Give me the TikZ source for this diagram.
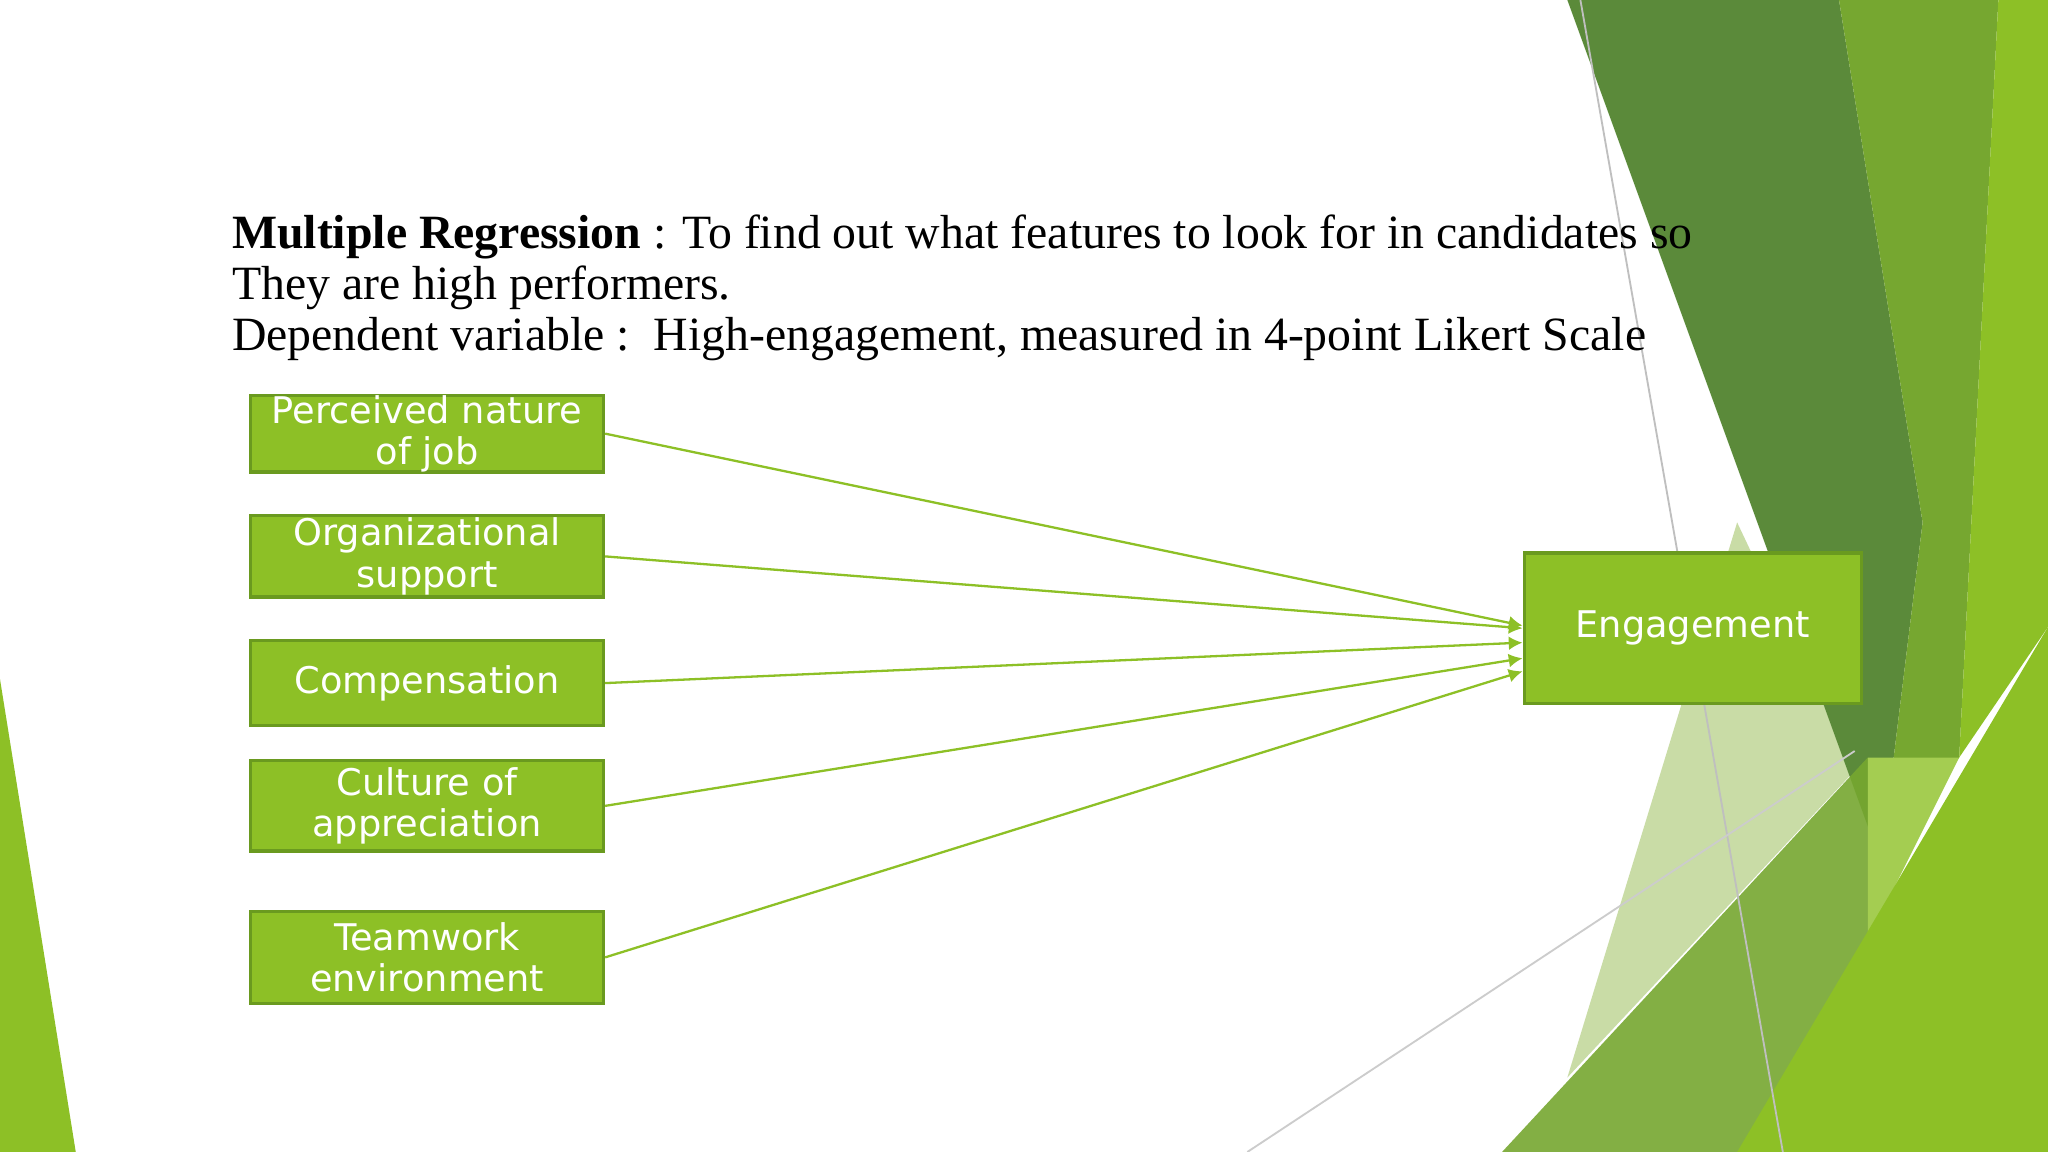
\documentclass[tikz,border=0pt]{standalone}
\usepackage{fontspec}
\setmainfont{Liberation Serif}
\newfontfamily\boxfont{DejaVu Sans}
\usetikzlibrary{arrows.meta}
\definecolor{bg}{HTML}{8DC026}
\definecolor{dk}{HTML}{5B8A3A}
\definecolor{md}{HTML}{76A730}
\definecolor{pl}{HTML}{C9DCA6}
\definecolor{bd}{HTML}{6A9A1F}
\tikzset{
 varbox/.style={draw=bd,line width=0.7pt,fill=bg,text=white,font=\boxfont\fontsize{8}{9}\selectfont,align=center,minimum width=2.7cm,inner sep=0pt},
 conn/.style={draw=bg,line width=0.5pt,-{Latex[length=3pt,width=3pt]}}
}
\begin{document}
\begin{tikzpicture}[x=0.01cm,y=-0.01cm]
\useasboundingbox (0,0) rectangle (1568,882);
\fill[white] (0,0) rectangle (1568,882);
% background shapes
\fill[pl] (1330,400) -- (1420,590) -- (1200,825) -- cycle;
\fill[dk] (1200,0) -- (1408,0) -- (1472,400) -- (1440,660) -- (1360,440) -- cycle;
\fill[md] (1408,0) -- (1530,0) -- (1500,580) -- (1440,660) -- (1472,400) -- cycle;
\fill[bg] (1530,0) -- (1568,0) -- (1568,480) -- (1500,580) -- cycle;
\fill[md,opacity=0.9] (1150,882) -- (1430,580) -- (1430,882) -- cycle;
\fill[bg!80!white] (1430,580) -- (1500,580) -- (1430,720) -- cycle;
\fill[bg] (1330,882) -- (1568,480) -- (1568,882) -- cycle;
\fill[bg] (0,520) -- (0,882) -- (58,882) -- cycle;
\draw[gray!50,line width=0.4pt] (1210,0) -- (1365,882);
\draw[gray!40,line width=0.4pt] (955,882) -- (1420,575);
% title text
\node[anchor=base west,inner sep=0,font=\fontsize{10.4}{12}\selectfont] at (177,190) {\textbf{Multiple Regression} : To find out what features to look for in candidates so};
\node[anchor=base west,inner sep=0,font=\fontsize{10.4}{12}\selectfont] at (177,229) {They are high performers.};
\node[anchor=base west,inner sep=0,font=\fontsize{10.4}{12}\selectfont] at (177,268) {Dependent variable :\ \ High-engagement, measured in 4-point Likert Scale};
% boxes
\node[varbox,minimum height=0.58cm] (a) at (327,332) {Perceived nature\\of job};
\node[varbox,minimum height=0.62cm] (b) at (327,426) {Organizational\\support};
\node[varbox,minimum height=0.65cm] (c) at (327,523) {Compensation};
\node[varbox,minimum height=0.69cm] (d) at (327,617) {Culture of\\appreciation};
\node[varbox,minimum height=0.70cm] (e) at (327,733) {Teamwork\\environment};
\node[varbox,minimum width=2.58cm,minimum height=1.15cm] (g) at (1296,481) {Engagement};
\draw[conn] (a.east) -- ([yshift=0.01cm]g.west |- 0,480);
\draw[conn] (b.east) -- (g.west |- 0,481);
\draw[conn] (c.east) -- (g.west |- 0,492);
\draw[conn] (d.east) -- (g.west |- 0,504);
\draw[conn] (e.east) -- (g.west |- 0,514);
\end{tikzpicture}
\end{document}
